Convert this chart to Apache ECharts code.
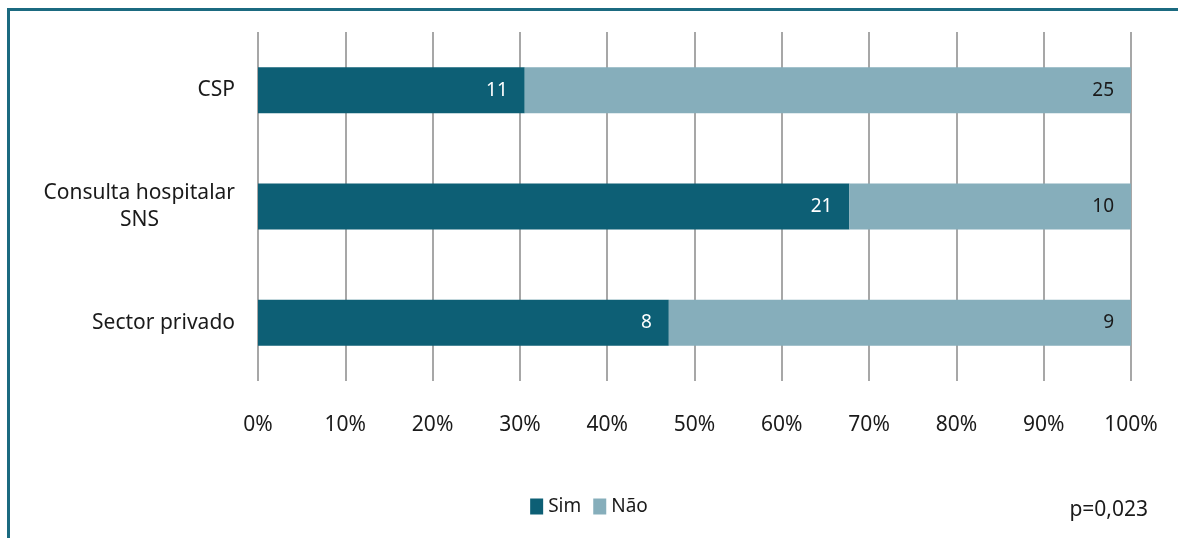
<!DOCTYPE html>
<html>
<head>
    <meta charset="UTF-8">
    <title>Sim / Não por local</title>
    <script src="https://cdnjs.cloudflare.com/ajax/libs/echarts/6.0.0/echarts.min.js"></script>
    <style>
        body { margin: 0; background: #fff; }
        #chart { width: 1178px; height: 538px; }
    </style>
</head>
<body>
    <div id="chart"></div>
    <script>
        // dados
        const categories = ['CSP', 'Consulta hospitalar\nSNS', 'Sector privado'];
        const simCounts = [11, 21, 8];
        const naoCounts = [25, 10, 9];
        const xTicks = [0, 10, 20, 30, 40, 50, 60, 70, 80, 90, 100];
        const pValue = 'p=0,023';

        const FONT = '"Noto Sans", sans-serif';
        const totals = simCounts.map((v, i) => v + naoCounts[i]);
        const simPct = simCounts.map((v, i) => v / totals[i] * 100);
        const naoPct = naoCounts.map((v, i) => v / totals[i] * 100);

        const chart = echarts.init(document.getElementById('chart'));

        function barLabel(counts, color) {
            return {
                show: true,
                position: 'insideRight',
                distance: 17,
                color: color,
                fontFamily: FONT,
                fontSize: 19,
                formatter: p => counts[p.dataIndex]
            };
        }

        chart.setOption({
            animation: false,
            grid: { left: 258, right: 47, top: 32, bottom: 157 },
            legend: {
                data: ['Sim', 'Não'],
                bottom: 17,
                left: 'center',
                itemWidth: 13,
                itemHeight: 16,
                itemGap: 12,
                icon: 'rect',
                textStyle: { fontFamily: FONT, fontSize: 19, color: '#1a1a1a' }
            },
            xAxis: {
                type: 'value',
                min: 0,
                max: 100,
                interval: 10,
                axisLine: { show: false },
                axisTick: { show: false },
                splitLine: { lineStyle: { color: '#8a8a8a', width: 1.5 } },
                axisLabel: {
                    margin: 34,
                    fontFamily: FONT,
                    fontSize: 21,
                    color: '#1a1a1a',
                    formatter: v => xTicks.includes(v) ? v + '%' : ''
                }
            },
            yAxis: {
                type: 'category',
                data: categories,
                inverse: true,
                axisLine: { show: false },
                axisTick: { show: false },
                axisLabel: {
                    margin: 23,
                    fontFamily: FONT,
                    fontSize: 21,
                    color: '#1a1a1a',
                    lineHeight: 27,
                    formatter: v => {
                        const parts = v.split('\n');
                        if (parts.length === 1) return v;
                        return '{a|' + parts[0] + '}\n{b|' + parts[1] + '}';
                    },
                    rich: {
                        a: { fontFamily: FONT, fontSize: 21, color: '#1a1a1a', lineHeight: 27 },
                        b: { fontFamily: FONT, fontSize: 21, color: '#1a1a1a', lineHeight: 27, padding: [0, 76, 0, 0] }
                    }
                }
            },
            series: [
                {
                    name: 'Sim',
                    type: 'bar',
                    stack: 'total',
                    barWidth: 46,
                    data: simPct,
                    itemStyle: { color: '#0d5f75' },
                    label: barLabel(simCounts, '#ffffff')
                },
                {
                    name: 'Não',
                    type: 'bar',
                    stack: 'total',
                    barWidth: 46,
                    data: naoPct,
                    itemStyle: { color: '#86aebb' },
                    label: barLabel(naoCounts, '#1a1a1a')
                }
            ],
            graphic: [
                { type: 'rect', left: 8, top: 8, shape: { width: 1170, height: 3 }, style: { fill: '#1b6a80' } },
                { type: 'rect', left: 7, top: 8, shape: { width: 3, height: 530 }, style: { fill: '#1b6a80' } },
                {
                    type: 'text', right: 30, top: 500,
                    style: { text: pValue, font: '21px ' + FONT, fill: '#1a1a1a' }
                }
            ]
        });
    </script>
</body>
</html>
